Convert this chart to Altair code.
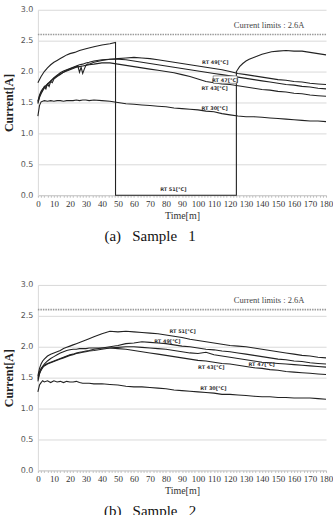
import altair as alt
import pandas as pd

# Shared time grid (minutes)
T = [0, 1, 2, 3, 4, 6, 8, 10, 12, 14, 16, 18, 20, 22, 24, 26, 28, 30, 32, 35,
     40, 45, 50, 55, 60, 65, 70, 75, 80, 85, 90, 95, 100, 105, 110, 115, 120,
     125, 130, 135, 140, 145, 150, 155, 160, 165, 170, 175, 180]

# ---- Sample 1 ----
s1_t51 = [0, 2, 4, 6, 8, 10, 12, 14, 16, 18, 20, 23, 26, 30, 35, 40, 45, 48.5,
          48.5, 124, 124, 126, 128, 130, 132, 134, 136, 138, 140, 143, 146, 150,
          155, 160, 165, 170, 175, 180]
s1_rt51 = [1.82, 1.92, 2.00, 2.06, 2.11, 2.15, 2.18, 2.21, 2.24, 2.27, 2.29, 2.31,
           2.34, 2.37, 2.40, 2.43, 2.45, 2.47, 0.0, 0.0, 2.00, 2.08, 2.13, 2.17,
           2.20, 2.22, 2.24, 2.26, 2.28, 2.30, 2.32, 2.33, 2.34, 2.33, 2.33, 2.31,
           2.29, 2.27]
s1_rt49 = [1.52, 1.62, 1.68, 1.72, 1.75, 1.80, 1.85, 1.90, 1.94, 1.98, 2.01, 2.03,
           2.05, 2.07, 2.09, 2.11, 2.12, 2.14, 2.15, 2.17, 2.19, 2.20, 2.21, 2.22,
           2.23, 2.22, 2.21, 2.19, 2.17, 2.15, 2.13, 2.11, 2.09, 2.07, 2.05, 2.03,
           2.00, 1.97, 1.95, 1.93, 1.91, 1.89, 1.87, 1.86, 1.84, 1.83, 1.81, 1.80,
           1.79]
s1_t47 = [0, 1, 2, 3, 4, 5, 6, 7, 8, 9, 10, 12, 14, 16, 18, 20, 22, 24, 25, 26,
          27, 28, 29, 30, 31, 32, 35, 40, 45, 50, 55, 60, 65, 70, 75, 80, 85, 90,
          95, 100, 105, 110, 115, 120, 125, 130, 135, 140, 145, 150, 155, 160,
          165, 170, 175, 180]
s1_rt47 = [1.50, 1.60, 1.66, 1.70, 1.76, 1.72, 1.80, 1.76, 1.84, 1.82, 1.88, 1.92,
           1.95, 1.99, 2.02, 2.04, 2.06, 2.08, 2.09, 1.99, 2.07, 1.97, 2.04, 2.10,
           2.12, 2.12, 2.15, 2.18, 2.20, 2.20, 2.19, 2.17, 2.15, 2.13, 2.11, 2.09,
           2.07, 2.05, 2.03, 2.01, 1.99, 1.97, 1.95, 1.93, 1.91, 1.89, 1.87, 1.85,
           1.83, 1.81, 1.79, 1.78, 1.76, 1.75, 1.73, 1.72]
s1_rt43 = [1.48, 1.58, 1.64, 1.69, 1.73, 1.79, 1.84, 1.89, 1.93, 1.96, 1.99, 2.01,
           2.03, 2.05, 2.07, 2.08, 2.09, 2.10, 2.11, 2.12, 2.14, 2.14, 2.12, 2.10,
           2.08, 2.06, 2.04, 2.02, 2.00, 1.98, 1.95, 1.92, 1.88, 1.84, 1.82, 1.80,
           1.79, 1.77, 1.75, 1.73, 1.71, 1.70, 1.68, 1.67, 1.65, 1.64, 1.62, 1.61,
           1.60]
s1_rt30 = [1.28, 1.45, 1.51, 1.52, 1.53, 1.52, 1.53, 1.52, 1.53, 1.53, 1.52, 1.53,
           1.53, 1.53, 1.54, 1.53, 1.54, 1.54, 1.53, 1.54, 1.53, 1.52, 1.50, 1.48,
           1.47, 1.46, 1.45, 1.44, 1.43, 1.41, 1.40, 1.39, 1.38, 1.36, 1.35, 1.32,
           1.30, 1.28, 1.27, 1.27, 1.26, 1.25, 1.24, 1.23, 1.22, 1.21, 1.20, 1.20,
           1.19]

# ---- Sample 2 ----
s2_rt51 = [1.53, 1.65, 1.72, 1.77, 1.80, 1.85, 1.88, 1.90, 1.92, 1.94, 1.97, 1.99,
           2.01, 2.03, 2.05, 2.07, 2.09, 2.11, 2.13, 2.16, 2.21, 2.25, 2.24, 2.25,
           2.24, 2.23, 2.22, 2.21, 2.19, 2.17, 2.15, 2.12, 2.10, 2.08, 2.06, 2.04,
           2.02, 2.01, 2.00, 1.98, 1.96, 1.94, 1.92, 1.90, 1.88, 1.86, 1.85, 1.83,
           1.82]
s2_rt49 = [1.50, 1.60, 1.65, 1.68, 1.70, 1.73, 1.75, 1.77, 1.79, 1.81, 1.83, 1.85,
           1.87, 1.88, 1.90, 1.91, 1.92, 1.93, 1.94, 1.96, 1.98, 2.00, 2.02, 2.05,
           2.06, 2.08, 2.07, 2.06, 2.05, 2.03, 2.01, 2.00, 1.98, 1.96, 1.95, 1.93,
           1.92, 1.90, 1.88, 1.86, 1.84, 1.82, 1.80, 1.79, 1.77, 1.76, 1.74, 1.73,
           1.72]
s2_rt47 = [1.47, 1.57, 1.62, 1.66, 1.69, 1.72, 1.74, 1.76, 1.78, 1.80, 1.82, 1.84,
           1.86, 1.87, 1.89, 1.90, 1.91, 1.92, 1.93, 1.94, 1.96, 1.98, 1.99, 2.00,
           2.00, 1.99, 1.98, 1.97, 1.96, 1.94, 1.92, 1.90, 1.89, 1.91, 1.87, 1.85,
           1.83, 1.81, 1.79, 1.77, 1.75, 1.74, 1.73, 1.72, 1.71, 1.70, 1.69, 1.68,
           1.67]
s2_rt43 = [1.44, 1.56, 1.63, 1.68, 1.72, 1.77, 1.81, 1.84, 1.87, 1.90, 1.92, 1.94,
           1.95, 1.96, 1.96, 1.97, 1.97, 1.97, 1.98, 1.98, 1.98, 1.98, 1.97, 1.96,
           1.94, 1.92, 1.90, 1.88, 1.86, 1.84, 1.82, 1.80, 1.78, 1.77, 1.75, 1.73,
           1.72, 1.70, 1.68, 1.66, 1.65, 1.63, 1.62, 1.60, 1.59, 1.58, 1.57, 1.56,
           1.55]
s2_rt30 = [1.27, 1.38, 1.42, 1.45, 1.43, 1.45, 1.42, 1.45, 1.43, 1.44, 1.42, 1.44,
           1.43, 1.43, 1.44, 1.42, 1.41, 1.41, 1.41, 1.40, 1.40, 1.39, 1.38, 1.36,
           1.35, 1.35, 1.34, 1.33, 1.32, 1.30, 1.29, 1.28, 1.27, 1.26, 1.25, 1.23,
           1.23, 1.22, 1.21, 1.20, 1.19, 1.19, 1.18, 1.18, 1.17, 1.17, 1.17, 1.16,
           1.15]

LIMIT = 2.6
LIMIT_TEXT = "Current limits : 2.6A"
NB = "\u00a0"

# Series label annotations: (text, time, current, boxed)
s1_labels = [("RT 49[°C]", 110.8, 2.15, False), ("RT 47[°C]", 117.0, 1.87, True),
             ("RT 43[°C]", 110.4, 1.74, False), ("RT 30[°C]", 110.4, 1.41, False),
             ("RT 51[°C]", 84.6, 0.10, False)]
s2_labels = [("RT 51[°C]", 90.4, 2.26, False), ("RT 49[°C]", 80.9, 2.10, False),
             ("RT 47[°C]", 139.8, 1.72, False), ("RT 43[°C]", 108.3, 1.67, False),
             ("RT 30[°C]", 109.6, 1.34, False)]


def frame(series):
    rows = []
    for name, ts, vs in series:
        assert len(ts) == len(vs), name
        for i, (t, v) in enumerate(zip(ts, vs)):
            rows.append({"series": name, "i": i, "t": t, "v": v})
    return pd.DataFrame(rows)


df1 = frame([("RT 51", s1_t51, s1_rt51), ("RT 49", T, s1_rt49),
             ("RT 47", s1_t47, s1_rt47), ("RT 43", T, s1_rt43),
             ("RT 30", T, s1_rt30)])
df2 = frame([("RT 51", T, s2_rt51), ("RT 49", T, s2_rt49),
             ("RT 47", T, s2_rt47), ("RT 43", T, s2_rt43),
             ("RT 30", T, s2_rt30)])

GRID = "#d9d9d9"
W, H = 289, 186

X_AXIS = alt.Axis(values=list(range(0, 181, 2)),
                  labelExpr="datum.value % 10 === 0 ? datum.label : ''",
                  labelOverlap=False, labelFlush=False,
                  labelFont="Liberation Sans Narrow", labelFontSize=9,
                  labelColor="#333", labelPadding=2,
                  tickSize=2, tickColor="#bbbbbb", domainColor="#cccccc",
                  grid=False, titleFont="Liberation Serif",
                  titleFontSize=10, titleFontWeight="normal",
                  titleColor="#333", titlePadding=2)
Y_AXIS = alt.Axis(values=[0, 0.5, 1, 1.5, 2, 2.5, 3], format=".1f",
                  labelOverlap=False,
                  labelFont="DejaVu Sans", labelFontSize=8,
                  labelColor="#555", labelPadding=5, ticks=False,
                  domainColor=GRID, grid=True, gridColor=GRID,
                  titleFont="Liberation Serif", titleFontSize=12,
                  titleFontWeight="bold", titleColor="#222",
                  titlePadding=5)
X_SCALE = alt.Scale(domain=[0, 180], nice=False, zero=False)
Y_SCALE = alt.Scale(domain=[0, 3], nice=False)


def xenc(field="t"):
    return alt.X(f"{field}:Q", title="Time[m]", scale=X_SCALE, axis=X_AXIS)


def yenc(field="v"):
    return alt.Y(f"{field}:Q", title="Current[A]", scale=Y_SCALE, axis=Y_AXIS)


def panel(df, labels, caption):
    lines = alt.Chart(df).mark_line(color="#222222", strokeWidth=1.1).encode(
        x=xenc(), y=yenc(), detail="series:N", order="i:Q")

    limit_df = pd.DataFrame({"v": [LIMIT]})
    limit = alt.Chart(limit_df).mark_rule(
        color="#9a9a9a", strokeWidth=1.6, strokeDash=[1.5, 1]).encode(y=yenc())

    note_df = pd.DataFrame({"t": [166.5], "v": [2.76], "txt": [LIMIT_TEXT]})
    note = alt.Chart(note_df).mark_text(
        align="right", baseline="middle", font="Liberation Serif",
        fontSize=8.5, color="#444").encode(x=xenc(), y=yenc(), text="txt:N")

    lab_df = pd.DataFrame(labels, columns=["txt", "t", "v", "boxed"])
    boxes_df = lab_df[lab_df["boxed"]].assign(
        t0=lambda d: d["t"] - 7.5, t1=lambda d: d["t"] + 7.5,
        v0=lambda d: d["v"] - 0.06, v1=lambda d: d["v"] + 0.06)
    boxes = alt.Chart(boxes_df).mark_rect(
        fill="white", stroke="#555", strokeWidth=0.6).encode(
        x=xenc("t0"), x2="t1:Q", y=yenc("v0"), y2="v1:Q")
    labs = alt.Chart(lab_df).mark_text(
        align="center", baseline="middle", font="DejaVu Sans", fontSize=5,
        fontWeight="bold", color="#333").encode(x=xenc(), y=yenc(), text="txt:N")

    return alt.layer(lines, limit, note, boxes, labs).properties(
        width=W, height=H,
        title=alt.TitleParams(text=caption, orient="bottom", anchor="middle",
                              font="Liberation Serif", fontSize=15,
                              fontWeight="normal", color="#111", offset=9,
                              dx=-32))


top = panel(df1, s1_labels, f"(a){NB*3}Sample{NB*3}1")
bottom = panel(df2, s2_labels, f"(b){NB*3}Sample{NB*3}2")

chart = alt.vconcat(top, bottom, spacing=90, bounds="flush").properties(
    padding={"left": 2, "top": 5, "right": 0, "bottom": 0},
    background="white"
).configure_view(stroke=None)

chart.save("out.html", embed_options={"renderer": "svg", "actions": False})
